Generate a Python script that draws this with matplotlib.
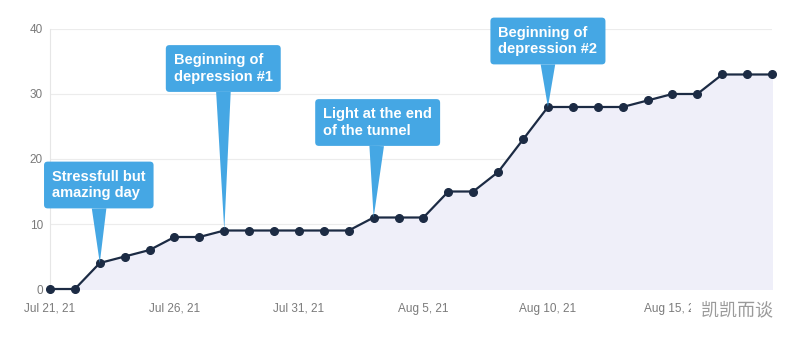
import pandas as pd
import matplotlib
matplotlib.use('Agg')
import matplotlib.pyplot as plt
import matplotlib.dates as mdates

## data ##
dates = pd.date_range('2021-07-21', '2021-08-19', freq='D')
counts = [0, 0, 4, 5, 6, 8, 8, 9, 9, 9, 9, 9, 9, 11, 11, 11, 15, 15, 18, 23,
          28, 28, 28, 28, 29, 30, 30, 33, 33, 33]

note_dates = ['2021-07-23', '2021-07-28', '2021-08-03', '2021-08-10']
note_texts = ['Stressfull but\namazing day', 'Beginning of\ndepression #1',
              'Light at the end\nof the tunnel', 'Beginning of\ndepression #2']
# box offset from the tip, pixels (layout only)
note_offsets = [(-1, 78), (-1, 162), (4, 95), (0, 66)]

tick_dates = pd.to_datetime(['2021-07-21', '2021-07-26', '2021-07-31',
                             '2021-08-05', '2021-08-10', '2021-08-15'])
y_ticks = [0, 10, 20, 30, 40]

plt.rcParams['font.family'] = ['Liberation Sans', 'DejaVu Sans']

fig = plt.figure(figsize=(8, 3.43), dpi=100)
ax = fig.add_axes([0.0625, 0.1574, 0.9025, 0.7581])

line_col = '#1c2b44'
box_col = '#45a7e4'

ax.fill_between(dates, counts, 0, color='#efeff9', zorder=1)
ax.plot(dates, counts, color=line_col, lw=1.6, marker='o', ms=5.5, zorder=3,
        clip_on=False)

ax.set_xlim(dates[0], dates[-1])
ax.set_ylim(0, 40)
ax.set_yticks(y_ticks)
ax.set_xticks(tick_dates)
ax.xaxis.set_major_formatter(mdates.DateFormatter('%b %-d, %y'))
ax.grid(axis='y', color='#ececec', lw=0.8)
ax.set_axisbelow(True)
for s in ['top', 'right', 'bottom']:
    ax.spines[s].set_visible(False)
ax.spines['left'].set_color('#e6e6e6')
ax.tick_params(length=0, labelsize=8.5, colors='#7a7a7a', pad=10)
ax.tick_params(axis='y', pad=5)

lookup = dict(zip(dates, counts))
for d, t, off in zip(note_dates, note_texts, note_offsets):
    d = pd.Timestamp(d)
    ax.annotate(t, xy=(d, lookup[d]), xytext=off, textcoords='offset pixels',
                ha='center', va='center', multialignment='left',
                color='white', fontsize=10.5, fontweight='bold',
                linespacing=1.25, zorder=5,
                bbox=dict(boxstyle='round,pad=0.55,rounding_size=0.25',
                          fc=box_col, ec='none'),
                arrowprops=dict(arrowstyle='wedge,tail_width=1.0,shrink_factor=0.5',
                                fc=box_col, ec='none', shrinkA=0, shrinkB=0))

# watermark (covers part of the last tick label, as in the source)
fig.text(0.966, 0.095, '  凯凯而谈', ha='right', va='center', fontsize=13,
         color='#9a9a9a', family=['Noto Sans CJK SC', 'DejaVu Sans'],
         bbox=dict(fc='white', ec='none', pad=1))

fig.savefig('out.png', dpi=100)
